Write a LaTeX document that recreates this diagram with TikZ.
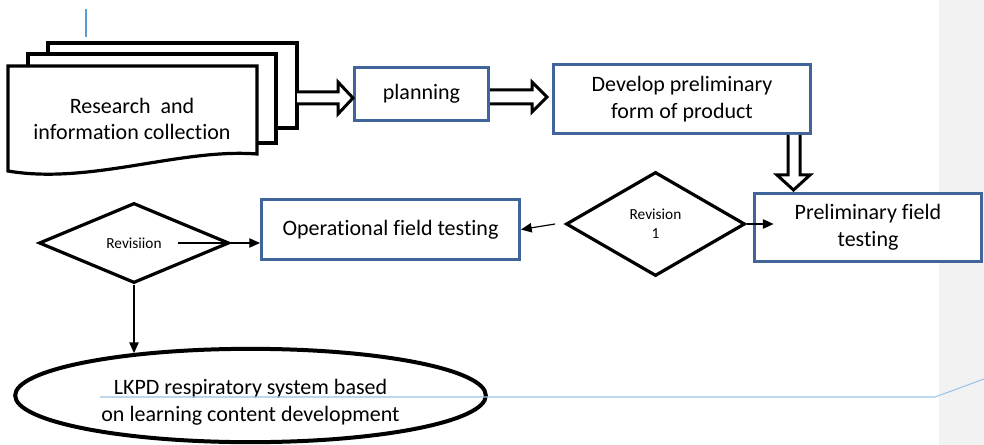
\documentclass[tikz,border=0pt]{standalone}
\usepackage{fontspec}
\setmainfont{Carlito}[Ligatures=NoCommon]
\usetikzlibrary{shapes.geometric,arrows.meta}
\definecolor{boxblue}{HTML}{41659A}
\definecolor{noteblue}{HTML}{5B9BD5}
\definecolor{notepale}{HTML}{9DC3E6}
\definecolor{panelgray}{HTML}{F2F2F2}
\newcommand\boxfont{\fontsize{16.5}{20}\selectfont}
\newcommand\tagfont{\fontsize{11.5}{14}\selectfont}
\tikzset{
  stepbox/.style={draw=boxblue, line width=2.25pt, fill=white, align=center, inner sep=0pt, font=\boxfont},
  decision/.style={diamond, draw, line width=2.4pt, fill=white, inner sep=0pt, align=center, font=\tagfont},
  sheet/.style={draw, line width=2.4pt, fill=white, line join=miter},
  blockarr/.style={draw, line width=2.25pt, fill=white, line join=miter},
  link/.style={line width=0.9pt, -{Triangle[length=8pt,width=7pt]}},
}
\begin{document}
\begin{tikzpicture}[x=0.75pt, y=-0.75pt]
			\useasboundingbox (0,0) rectangle (984,445);
			\fill [panelgray] (939,0) rectangle (984,445);
			\draw [noteblue, line width=0.8pt] (86,9) -- (86,37);
			% stacked documents
			\draw [sheet] (48,43) rectangle (297,128);
			\draw [sheet] (28,54) rectangle (276,143);
			\draw [sheet] (8,66) -- (257,66) -- (257,154) .. controls (180,148) and (90,185) .. (8,171) -- cycle;
			\node [font=\boxfont, align=center] (docs) at (132,119) {Research\ \ and\\information collection};
			\coordinate (docs-e) at (297,98);
			% boxes
			\node [stepbox, minimum width=100.5pt, minimum height=39.75pt] (plan) at (421.5,94) {planning};
			\node [stepbox, minimum width=192.75pt, minimum height=51.75pt] (dev) at (682,99) {Develop preliminary\\form of product};
			\node [stepbox, minimum width=170.25pt, minimum height=51pt] (prelim) at (868,227.5) {Preliminary field\\testing};
			\node [stepbox, minimum width=193.5pt, minimum height=45pt] (op) at (390.5,229.5) {Operational field testing};
			\node [decision, minimum width=134.25pt, minimum height=78pt] (rev1) at (655.5,224) {Revision\\1};
			\node [decision, minimum width=142.5pt, minimum height=60pt] (rev) at (134,243) {Revisiion};
			\node [ellipse, draw, line width=3pt, fill=white, inner sep=0pt, minimum width=353pt, minimum height=70pt,
			       label={[align=center, font=\boxfont, yshift=-5pt]center:LKPD respiratory system based\\on learning content development}] (ell) at (250.5,395.5) {};
			% block arrows
			\draw [blockarr] (docs-e) ++(0,-6) -- ++(41,0) -- ++(0,-10) -- ++(15,16) -- ++(-15,16) -- ++(0,-10) -- ++(-41,0);
			\draw [blockarr] (plan.east) ++(0,-4) -- ++(42,0) -- ++(0,-8) -- ++(15,15) -- ++(-15,15) -- ++(0,-8) -- ++(-42,0);
			\draw [blockarr] (dev.south east) ++(-24,0) -- ++(0,40) -- ++(-11,0) -- ++(16.5,15) -- ++(16.5,-15) -- ++(-10,0) -- ++(0,-40);
			% links
			\draw [link] (rev1.east) -- ++(27,0);
			\draw [link] ([xshift=-7pt]rev1.west) -- (op.east);
			\draw [link] ([xshift=33pt]rev.center) -- (rev.center -| op.west);
			\draw [link] (rev.south) -- (rev.south |- ell.160);
			\draw [notepale, line width=0.8pt] (100,397) -- (935,397) -- (984,379);
		\end{tikzpicture}
\end{document}
